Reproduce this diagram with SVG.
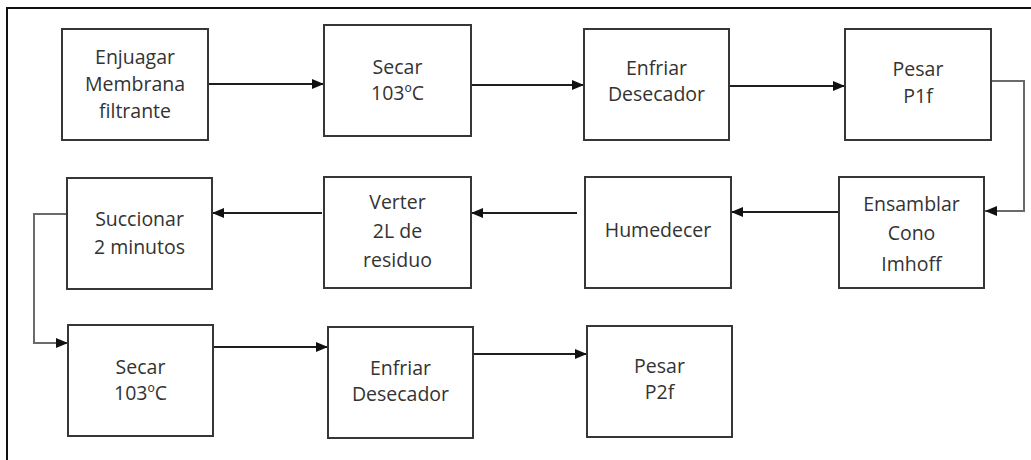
<svg xmlns="http://www.w3.org/2000/svg" width="1031" height="460" viewBox="0 0 1031 460">
  <defs>
    <style>
      .box { fill: #ffffff; stroke: #363636; stroke-width: 2; }
      .lbl { font-family: "Open Sans", "Noto Sans", "Liberation Sans", sans-serif; font-size: 19.5px; fill: #333333; text-anchor: middle; }
      .arrow { fill: none; stroke: #1e1e1e; stroke-width: 1.8; marker-end: url(#head); }
      .elbow { fill: none; stroke: #6a6a6a; stroke-width: 2; marker-end: url(#head); }
      .frame { fill: none; stroke: #111111; stroke-width: 2; }
    </style>
    <marker id="head" markerUnits="userSpaceOnUse" markerWidth="12" markerHeight="10" refX="12" refY="5" orient="auto">
      <path d="M0,0 L12,5 L0,10 z" fill="#111111"/>
    </marker>
  </defs>

  <rect width="1031" height="460" fill="#ffffff"/>

  <!-- page frame: left and top edges only -->
  <path class="frame" d="M7,460 L7,8 L1031,8"/>

  <!-- connectors -->
  <g id="connectors">
    <path class="arrow" d="M208,84 L324,84"/>
    <path class="arrow" d="M471,85 L584,85"/>
    <path class="arrow" d="M729,86 L845,86"/>
    <path class="elbow" d="M991,81 L1024,81 L1024,211 L985,211"/>
    <path class="arrow" d="M839,212 L731,212"/>
    <path class="arrow" d="M577,213 L471,213"/>
    <path class="arrow" d="M322,213 L212,213"/>
    <path class="elbow" d="M67,214 L34,214 L34,343 L68,343"/>
    <path class="arrow" d="M213,347 L328,347"/>
    <path class="arrow" d="M473,354 L587,354"/>
  </g>

  <!-- row 1 -->
  <g id="enjuagar">
    <rect class="box" x="62" y="29" width="146" height="111"/>
    <text class="lbl" x="135" y="64">Enjuagar</text>
    <text class="lbl" x="135" y="91">Membrana</text>
    <text class="lbl" x="135" y="118">filtrante</text>
  </g>
  <g id="secar1">
    <rect class="box" x="324" y="25" width="147" height="111"/>
    <text class="lbl" x="397.5" y="73.5">Secar</text>
    <text class="lbl" x="397.5" y="99.5">103ºC</text>
  </g>
  <g id="enfriar1">
    <rect class="box" x="584" y="29" width="145" height="111"/>
    <text class="lbl" x="656.5" y="75">Enfriar</text>
    <text class="lbl" x="656.5" y="101">Desecador</text>
  </g>
  <g id="pesar1">
    <rect class="box" x="845" y="29" width="146" height="111"/>
    <text class="lbl" x="918" y="76">Pesar</text>
    <text class="lbl" x="918" y="102.5">P1f</text>
  </g>

  <!-- row 2 -->
  <g id="ensamblar">
    <rect class="box" x="839" y="177" width="145" height="111"/>
    <text class="lbl" x="911.5" y="210.5">Ensamblar</text>
    <text class="lbl" x="911.5" y="240">Cono</text>
    <text class="lbl" x="911.5" y="271">Imhoff</text>
  </g>
  <g id="humedecer">
    <rect class="box" x="585" y="177" width="146" height="111"/>
    <text class="lbl" x="658" y="237">Humedecer</text>
  </g>
  <g id="verter">
    <rect class="box" x="324" y="177" width="147" height="111"/>
    <text class="lbl" x="397.5" y="209">Verter</text>
    <text class="lbl" x="397.5" y="237.5">2L de</text>
    <text class="lbl" x="397.5" y="266.5">residuo</text>
  </g>
  <g id="succionar">
    <rect class="box" x="67" y="178" width="145" height="111"/>
    <text class="lbl" x="139.5" y="225.5">Succionar</text>
    <text class="lbl" x="139.5" y="254">2 minutos</text>
  </g>

  <!-- row 3 -->
  <g id="secar2">
    <rect class="box" x="68" y="325" width="145" height="111"/>
    <text class="lbl" x="140.5" y="374">Secar</text>
    <text class="lbl" x="140.5" y="400">103ºC</text>
  </g>
  <g id="enfriar2">
    <rect class="box" x="328" y="327" width="145" height="111"/>
    <text class="lbl" x="400.5" y="374.5">Enfriar</text>
    <text class="lbl" x="400.5" y="401">Desecador</text>
  </g>
  <g id="pesar2">
    <rect class="box" x="587" y="326" width="145" height="111"/>
    <text class="lbl" x="659.5" y="372.5">Pesar</text>
    <text class="lbl" x="659.5" y="399">P2f</text>
  </g>
</svg>
